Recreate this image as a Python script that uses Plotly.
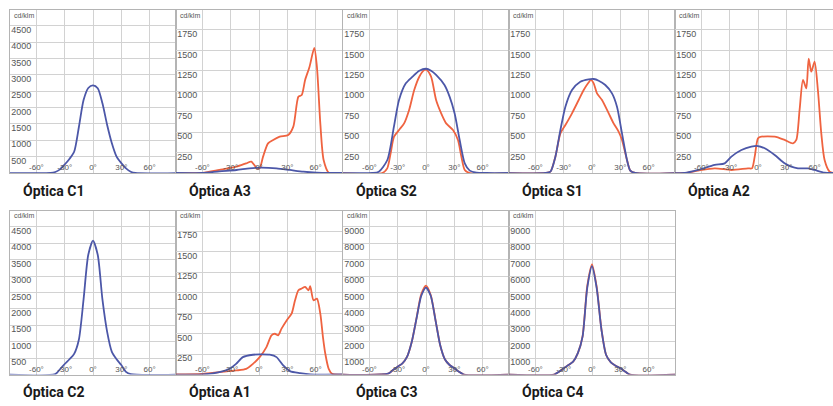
import plotly.graph_objects as go

# ─── Colours ────────────────────────────────────────────────────────────────
BLUE = "#4c57a8"
RED = "#ef6340"
GRID = "#d2d2d2"
FRAME = "#b4b4b4"
TICK = "#555555"

ANGLE_TICKS = [-60, -30, 0, 30, 60]
ANGLE_TEXT = ["-60°", "-30°", "0°", "30°", "60°"]

# ─── Data (angle in degrees, intensity in cd/klm) ────────────────────────────
c1_ang = [-90, -45, -40, -35, -30, -25, -20, -15, -10, -5, 0, 5, 10, 15, 20, 25, 30, 35, 40, 45, 90]
c1_blue = [0, 0, 30, 110, 260, 430, 650, 1400, 2230, 2600, 2680, 2590, 2130, 1470, 910, 500, 300, 140, 40, 0, 0]

a3_red_ang = [-90, -60, -42, -24, -13.6, -8.2, -2.1, 0.7, 4.3, 9.6, 15, 22, 31, 36.4, 41.8, 45.3,
              48.9, 53.6, 58.6, 61.4, 65, 68.5, 74, 90]
a3_red = [0, 0, 37, 77, 118, 139, 57, 57, 200, 363, 404, 444, 465, 567, 934, 954,
          1138, 1300, 1530, 1300, 607, 159, 4, 0]
a3_blue_ang = [-90, -60, -42, -24, -10, 0.7, 18.6, 32.8, 47, 61, 76, 90]
a3_blue = [0, 0, 20, 37, 57, 65, 57, 37, 16, 4, 0, 0]

s2_blue_ang = [-90, -57, -50, -41, -34, -28.6, -21.4, -14.3, -7.1, 0, 5.4, 10.7, 19.6, 25,
               30.3, 35.7, 41.1, 46.4, 53.6, 64, 90]
s2_blue = [0, 0, 16, 159, 567, 893, 1097, 1178, 1250, 1275, 1250, 1199, 1076, 934,
           730, 404, 118, 29, 4, 0, 0]
s2_red_ang = [-90, -46.4, -41.1, -37.5, -33.9, -28.6, -23.2, -17.9, -12.5, -7.1, -1.8, 0.7,
              5.4, 10.7, 16.1, 21.4, 28.6, 33.9, 37.5, 41.1, 46.4, 90]
s2_red = [0, 0, 57, 241, 444, 526, 607, 771, 1015, 1178, 1260, 1260,
          1178, 893, 730, 607, 526, 404, 200, 37, 0, 0]

s1_blue_ang = [-90, -49.4, -44.1, -38.8, -33.5, -28.2, -21.2, -12.4, -3.5, 1.8, 7.1, 14.1,
               21.2, 26.5, 31.8, 37.1, 40.6, 45.9, 90]
s1_blue = [0, 0, 16, 200, 526, 811, 1015, 1117, 1146, 1150, 1129, 1076,
           974, 811, 485, 159, 29, 0, 0]
s1_red_ang = [-90, -49.4, -44.1, -38.8, -33.5, -28.2, -21.2, -14.1, -8.8, -4.2, -1.1, 1.8,
              5.3, 10.6, 17.7, 22.9, 28.2, 31.8, 37.1, 40.6, 45.9, 90]
s1_red = [0, 0, 16, 200, 485, 587, 730, 893, 1015, 1097, 1140, 1097,
          974, 893, 730, 607, 506, 404, 159, 29, 0, 0]

a2_blue_ang = [-90, -77.6, -63.5, -45.9, -35.3, -28.2, -17.6, -7.1, 0, 7.1, 17.7, 28.2,
               35.3, 42.4, 53, 60, 70.6, 79.4, 90]
a2_blue = [0, 0, 37, 98, 118, 200, 281, 322, 330, 302, 220, 118,
           77, 57, 57, 37, 4, 0, 0]
a2_red_ang = [-90, -77.6, -63.5, -45.9, -28.2, -10.6, -6.4, -3.5, 0, 3.5, 17.7, 28.2, 37.1,
              40.6, 44.1, 47.7, 51.2, 53.7, 56.5, 60, 63.5, 67.1, 70.6, 75.9, 79.4, 90]
a2_red = [0, 0, 29, 57, 37, 57, 57, 200, 424, 444, 444, 404, 363,
          404, 771, 1138, 1036, 1400, 1239, 1362, 1015, 485, 159, 16, 0, 0]

c2_ang = [-90, -40, -35, -30, -25, -20, -15, -10, -5, 0, 5, 10, 15, 20, 25, 30, 35, 40, 90]
c2_blue = [0, 10, 160, 320, 465, 630, 1060, 2290, 3650, 4080, 3650, 2290, 1300, 690, 465, 290, 80, 10, 0]

a1_red_ang = [-90, -60, -42.1, -24.3, -13.6, -6.4, 0.7, 7.9, 13.2, 16.8, 20.3, 23.9, 29.3,
              34.6, 38.2, 41.8, 45.3, 48.9, 52.5, 54.3, 57.8, 61.4, 65, 67.8, 70.3, 73.9,
              77.5, 90]
a1_red = [0, 8, 29, 49, 69, 130, 212, 334, 477, 497, 477, 559, 660,
          742, 905, 1027, 1048, 1068, 1027, 1076, 905, 925, 742, 457, 253, 69,
          8, 0]
a1_blue_ang = [-90, -60, -42.1, -31.4, -24.3, -17.1, -6.4, 0.7, 11.4, 18.6, 25.7, 32.8,
               43.6, 54.3, 90]
a1_blue = [0, 0, 29, 69, 130, 212, 241, 245, 241, 212, 110, 41, 16, 0, 0]

c3_ang = [-90, -40, -35, -30, -25, -20, -15, -10, -5, 0, 5, 10, 15, 20, 25, 30, 35, 40, 90]
c3_blue = [0, 50, 275, 477, 680, 1090, 2010, 3430, 4800, 5300, 4800, 3330, 1800, 930, 580, 380, 170, 0, 0]
c3_red = [0, 50, 275, 477, 680, 1090, 2010, 3450, 4900, 5420, 4850, 3350, 1800, 930, 580, 380, 170, 0, 0]

c4_ang = [-90, -40, -35, -30, -25, -20, -15, -10, -5, 0, 5, 10, 15, 20, 25, 30, 35, 40, 90]
c4_blue = [0, 0, 170, 380, 580, 785, 1300, 2310, 5300, 6600, 5250, 2740, 1190, 745, 540, 380, 190, 0, 0]
c4_red = [0, 0, 170, 380, 580, 785, 1300, 2330, 5400, 6720, 5330, 2760, 1190, 745, 540, 380, 190, 0, 0]

# ─── Panel layout (pixel geometry of the 833x406 page) ──────────────────────
W, H = 833, 406
COL_LEFT = [10, 176, 343, 509, 675]
PANEL_W = 166
ROWS = {0: (9.5, 173), 1: (210.5, 374.5)}
PX_PER_DEG = PANEL_W / 176

panels = [
    # (title, row, col, ymax, ystep, series)
    ("Óptica C1", 0, 0, 5000, 500, [(c1_ang, c1_blue, BLUE)]),
    ("Óptica A3", 0, 1, 2000, 250, [(a3_red_ang, a3_red, RED), (a3_blue_ang, a3_blue, BLUE)]),
    ("Óptica S2", 0, 2, 2000, 250, [(s2_red_ang, s2_red, RED), (s2_blue_ang, s2_blue, BLUE)]),
    ("Óptica S1", 0, 3, 2000, 250, [(s1_red_ang, s1_red, RED), (s1_blue_ang, s1_blue, BLUE)]),
    ("Óptica A2", 0, 4, 2000, 250, [(a2_red_ang, a2_red, RED), (a2_blue_ang, a2_blue, BLUE)]),
    ("Óptica C2", 1, 0, 5000, 500, [(c2_ang, c2_blue, BLUE)]),
    ("Óptica A1", 1, 1, 2000, 250, [(a1_red_ang, a1_red, RED), (a1_blue_ang, a1_blue, BLUE)]),
    ("Óptica C3", 1, 2, 10000, 1000, [(c3_ang, c3_red, RED), (c3_ang, c3_blue, BLUE)]),
    ("Óptica C4", 1, 3, 10000, 1000, [(c4_ang, c4_red, RED), (c4_ang, c4_blue, BLUE)]),
]

fig = go.Figure()
layout = {}
annotations = []

for n, (title, row, col, ymax, ystep, series) in enumerate(panels, start=1):
    left = COL_LEFT[col]
    right = min(left + PANEL_W, W)
    top, bottom = ROWS[row]
    x_hi = -88 + (right - left) / PX_PER_DEG
    suffix = "" if n == 1 else str(n)

    for ang, val, color in series:
        fig.add_trace(go.Scatter(
            x=ang, y=val, mode="lines",
            line=dict(color=color, width=1.8, shape="spline", smoothing=0.7),
            xaxis=f"x{suffix}", yaxis=f"y{suffix}",
            showlegend=False, hoverinfo="skip",
        ))

    layout[f"xaxis{suffix}"] = dict(
        domain=[left / W, right / W], range=[-88, x_hi], anchor=f"y{suffix}",
        tickvals=ANGLE_TICKS, ticktext=ANGLE_TEXT, ticklabelposition="inside",
        tickfont=dict(size=8, color=TICK), ticks="",
        showgrid=True, gridcolor=GRID, gridwidth=1, zeroline=False,
        showline=True, mirror=True, linecolor=FRAME, linewidth=1, fixedrange=True,
    )
    layout[f"yaxis{suffix}"] = dict(
        domain=[(H - bottom) / H, (H - top) / H], range=[0, ymax], anchor=f"x{suffix}",
        tickvals=list(range(ystep, ymax, ystep)), ticklabelposition="inside",
        ticklabelshift=4, tickfont=dict(size=9, color=TICK), ticks="",
        showgrid=True, gridcolor=GRID, gridwidth=1, zeroline=False,
        showline=True, mirror=True, linecolor=FRAME, linewidth=1, fixedrange=True,
    )

    annotations.append(dict(
        text="cd/klm", xref=f"x{suffix} domain", yref=f"y{suffix} domain",
        x=0.015, y=1.0, xanchor="left", yanchor="top", showarrow=False,
        font=dict(size=7, color=TICK),
    ))
    annotations.append(dict(
        text=title, xref="paper", yref="paper",
        x=(left + 11) / W, y=(H - (bottom + 17)) / H,
        xanchor="left", yanchor="middle", showarrow=False,
        font=dict(size=14, color="#1a1a1a", weight="bold", family="Roboto, sans-serif"),
    ))

fig.update_layout(
    width=W, height=H,
    margin=dict(l=0, r=0, t=0, b=0),
    paper_bgcolor="white", plot_bgcolor="white",
    font=dict(family="Liberation Sans, Arial, sans-serif", color=TICK),
    annotations=annotations,
    **layout,
)

# the page's default body margin would push the figure 8 px down/right
fig.write_html("out.html", config={"displayModeBar": False},
               post_script="document.body.style.margin='0';")
